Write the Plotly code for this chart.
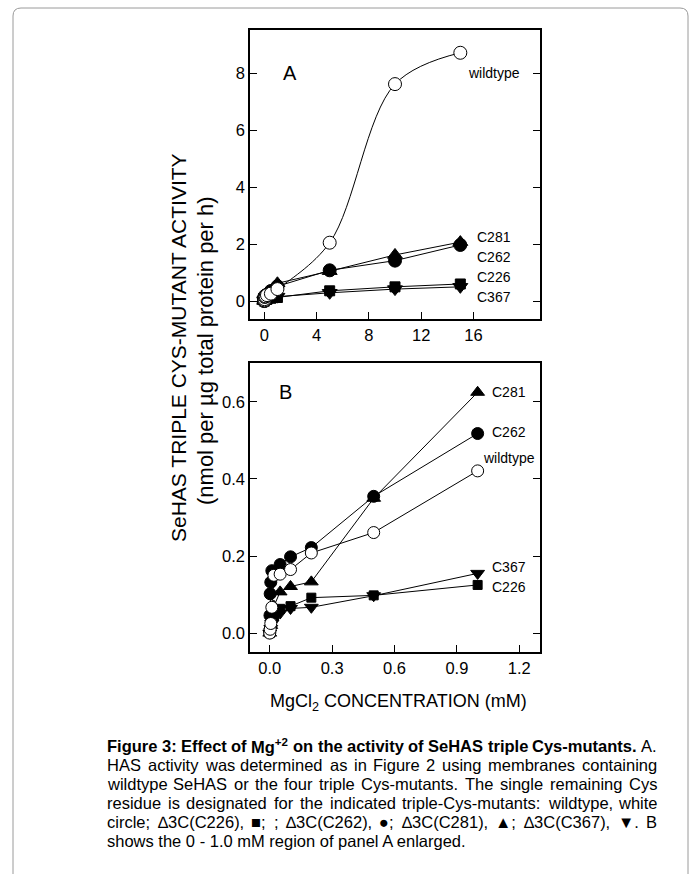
import plotly.graph_objects as go

W, H = 697, 874

# ---------------- data ----------------
# Panel B (0 - 1.0 mM) and the low part of panel A
wt_x = [0, 0.002, 0.005, 0.01, 0.02, 0.05, 0.1, 0.2, 0.5, 1.0]
wt_y = [0.0, 0.01, 0.025, 0.067, 0.150, 0.153, 0.165, 0.208, 0.261, 0.421]

c262_x = [0, 0.001, 0.002, 0.005, 0.01, 0.05, 0.1, 0.2, 0.5, 1.0]
c262_y = [0.003, 0.046, 0.102, 0.132, 0.162, 0.178, 0.198, 0.222, 0.355, 0.518]

c281_x = [0, 0.005, 0.01, 0.02, 0.05, 0.1, 0.2, 0.5, 1.0]
c281_y = [0.0, 0.02, 0.04, 0.07, 0.107, 0.121, 0.133, 0.350, 0.625]

c226_x = [0, 0.005, 0.01, 0.02, 0.05, 0.1, 0.2, 0.5, 1.0]
c226_y = [0.0, 0.015, 0.03, 0.045, 0.063, 0.070, 0.092, 0.098, 0.125]

c367_x = [0, 0.005, 0.01, 0.02, 0.05, 0.1, 0.2, 0.5, 1.0]
c367_y = [0.0, 0.012, 0.025, 0.040, 0.052, 0.064, 0.067, 0.097, 0.155]

# Panel A high-concentration points (mM)
hi_x = [5, 10, 15]
wt_hi = [2.05, 7.62, 8.72]
c281_hi = [1.05, 1.62, 2.07]
c262_hi = [1.08, 1.42, 1.97]
c226_hi = [0.36, 0.50, 0.60]
c367_hi = [0.29, 0.42, 0.50]

a_xticks = [0, 4, 8, 12, 16]
a_yticks = [0, 2, 4, 6, 8]
b_xticks = [0.0, 0.3, 0.6, 0.9, 1.2]
b_yticks = [0.0, 0.2, 0.4, 0.6]

series = [
    # name, x, y, hi, symbol, fill, size
    ("C367", c367_x, c367_y, c367_hi, "triangle-down", "black", 12),
    ("C226", c226_x, c226_y, c226_hi, "square", "black", 9),
    ("C281", c281_x, c281_y, c281_hi, "triangle-up", "black", 12),
    ("C262", c262_x, c262_y, c262_hi, "circle", "black", 12),
    ("wildtype", wt_x, wt_y, wt_hi, "circle", "white", 12),
]

def px(x):
    return x / W

def py(y):
    return 1 - y / H

fig = go.Figure()

for name, x, y, hi, sym, fill, size in series:
    shape = "spline" if name == "wildtype" else "linear"
    fig.add_trace(go.Scatter(
        x=x + hi_x, y=y + hi, mode="lines+markers", xaxis="x", yaxis="y",
        line=dict(color="black", width=1, shape=shape, smoothing=1.0),
        marker=dict(symbol=sym, size=size + 1, color=fill, line=dict(color="black", width=1)),
        showlegend=False, name=name))
    fig.add_trace(go.Scatter(
        x=x, y=y, mode="lines+markers", xaxis="x2", yaxis="y2",
        line=dict(color="black", width=1),
        marker=dict(symbol=sym, size=size, color=fill, line=dict(color="black", width=1)),
        showlegend=False, name=name))

FONT = "Liberation Sans, Arial"
axis_common = dict(showline=True, linecolor="black", linewidth=1.5, ticks="inside",
                   ticklen=7, tickwidth=1, tickcolor="black", showgrid=False,
                   zeroline=False, tickfont=dict(family=FONT, size=16.5, color="black"))

fig.update_layout(
    width=W, height=H, margin=dict(l=0, r=0, t=0, b=0),
    paper_bgcolor="white", plot_bgcolor="white",
    xaxis=dict(domain=[px(250), px(540)], range=[-1.1, 21.1], tickvals=a_xticks,
               anchor="y", mirror=True, **axis_common),
    yaxis=dict(domain=[py(319), py(30)], range=[-0.63, 9.52], tickvals=a_yticks,
               anchor="x", mirror="ticks", **axis_common),
    xaxis2=dict(domain=[px(250), px(540)], range=[-0.095, 1.30], tickvals=b_xticks,
                tickformat=".1f", anchor="y2", mirror=True, **axis_common),
    yaxis2=dict(domain=[py(652), py(363)], range=[-0.049, 0.701], tickvals=b_yticks,
                tickformat=".1f", anchor="x2", mirror="ticks", **axis_common),
)

ann = []
def text(x, y, s, size=14, anchor="left", angle=0):
    ann.append(dict(x=px(x), y=py(y), xref="paper", yref="paper", text=s, showarrow=False,
                    xanchor=anchor, yanchor="middle", textangle=angle,
                    font=dict(family=FONT, size=size, color="black")))

text(290, 73, "A", 20, "center")
text(285, 392, "B", 20, "center")
text(466, 73, "wildtype", 14)
text(475, 237, "C281", 14)
text(475, 257, "C262", 14)
text(475, 277, "C226", 14)
text(475, 297, "C367", 14)
text(490, 392, "C281", 14)
text(490, 432, "C262", 14)
text(481, 458, "wildtype", 14)
text(490, 567, "C367", 14)
text(490, 587, "C226", 14)

text(398, 702, "MgCl<sub>2</sub> CONCENTRATION (mM)", 18, "center")
text(178, 348, "SeHAS TRIPLE CYS-MUTANT ACTIVITY", 21, "center", -90)
text(205, 351, "(nmol per µg total protein per h)", 22, "center", -90)

# ---- caption, justified word by word (Arial-compatible advance widths) ----
REG = {}
for chars, w in [(" ,.:;!'", 278), ("()-r", 333), ("0123456789abdeghnopqu", 556),
                 ("ckstvxyz", 500), ("AEBKPSVXY", 667), ("CDHNRUw", 722),
                 ("FTZ", 611), ("GOQ", 778), ("I", 278), ("J", 500), ("L", 556),
                 ("Mm", 833), ("W", 944), ("■●", 604), ("▲▼", 990), ("∆", 612)]:
    for ch in chars:
        REG[ch] = w
REG.update({"f": 278, "t": 278, "i": 222, "j": 222, "l": 222, "k": 500, "s": 500,
            "c": 500, "v": 500, "x": 500, "y": 500, "z": 500, "w": 722})
BOLD = dict(REG)
BOLD.update({":": 333, "b": 611, "c": 556, "d": 611, "f": 333, "g": 611, "h": 611,
             "i": 278, "l": 278, "m": 889, "n": 611, "o": 611, "p": 611, "q": 611,
             "r": 389, "s": 556, "t": 333, "u": 611, "v": 556, "y": 556, "A": 722,
             "C": 722, "H": 722, "E": 667, "F": 611, "M": 833, "S": 667, "-": 333})

CAP_SIZE = 16.5
CAP_L, CAP_R = 105, 655

def width(word, bold, size):
    table = BOLD if bold else REG
    return sum(table.get(ch, 600) for ch in word) * size / 1000.0

cap_lines = [
    [("Figure", 1), ("3:", 1), ("Effect", 1), ("of", 1), ("Mg", 1, "+2"), ("on", 1),
     ("the", 1), ("activity", 1), ("of", 1), ("SeHAS", 1), ("triple", 1),
     ("Cys-mutants.", 1), ("A.", 0)],
    "HAS activity was determined as in Figure 2 using membranes containing",
    "wildtype SeHAS or the four triple Cys-mutants. The single remaining Cys",
    "residue is designated for the indicated triple-Cys-mutants: wildtype, white",
    "circle; ∆3C(C226), ■; ; ∆3C(C262), ●; ∆3C(C281), ▲; ∆3C(C367), ▼. B",
]
last_line = "shows the 0 - 1.0 mM region of panel A enlarged."

def cap_word(x, y, word, bold, sup=None):
    s = word
    if sup:
        s = word + "<sup>" + sup + "</sup>"
    if bold:
        s = "<b>" + s + "</b>"
    ann.append(dict(x=px(x), y=py(y), xref="paper", yref="paper", text=s, showarrow=False,
                    xanchor="left", yanchor="middle",
                    font=dict(family=FONT, size=CAP_SIZE, color="black")))

for i, line in enumerate(cap_lines):
    yy = 746 + 19 * i
    if isinstance(line, str):
        words = [(w_, 0) for w_ in line.split(" ")]
    else:
        words = line
    ws = []
    for wd in words:
        wdt = width(wd[0], wd[1], CAP_SIZE)
        if len(wd) > 2:
            wdt += width(wd[2], wd[1], CAP_SIZE) * 0.72
        ws.append(wdt)
    gap = (CAP_R - CAP_L - sum(ws)) / (len(words) - 1)
    gap = max(gap, 2.0)
    xx = CAP_L
    for wd, wdt in zip(words, ws):
        cap_word(xx, yy, wd[0], wd[1], wd[2] if len(wd) > 2 else None)
        xx += wdt + gap
text(CAP_L, 746 + 19 * 5, last_line, CAP_SIZE)

fig.update_layout(annotations=ann)

# rounded outer border
x0, y0, x1, y1, r = px(13), py(8), px(688), py(880), 8
rx, ry = r / W, r / H
path = (f"M {x0+rx},{y0} L {x1-rx},{y0} Q {x1},{y0} {x1},{y0-ry} "
        f"L {x1},{y1} L {x0},{y1} L {x0},{y0-ry} Q {x0},{y0} {x0+rx},{y0} Z")
fig.add_shape(type="path", path=path, xref="paper", yref="paper",
              line=dict(color="#9a9a9a", width=1))

fig.write_html("out.html", config={"displayModeBar": False},
               post_script="document.body.style.margin='0px';")
